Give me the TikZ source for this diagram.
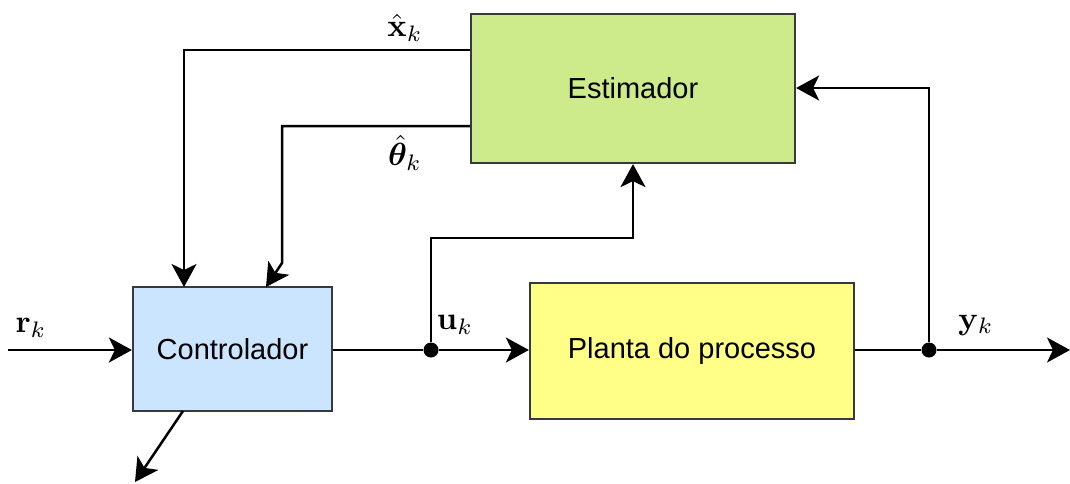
\documentclass[tikz,border=0pt]{standalone}
\usepackage{amsmath,bm}
\usepackage[no-math]{fontspec}
\setmainfont{Liberation Sans}
\usetikzlibrary{arrows.meta}
\definecolor{estfill}{HTML}{CDEB8B}
\definecolor{ctrlfill}{HTML}{CCE5FF}
\definecolor{plantfill}{HTML}{FFFF88}
\definecolor{boxline}{HTML}{36393D}
\tikzset{
  blockbox/.style={draw=boxline, line width=2.2pt, inner sep=0pt, font=\fontsize{29}{32}\selectfont},
  conn/.style={line width=2.5pt, -{Stealth[length=23pt,width=25pt,inset=6pt]}},
  wire/.style={line width=2.5pt},
  junction/.style={circle, fill=black, inner sep=0pt, minimum size=15pt},
  lbl/.style={inner sep=0pt, scale=3.2}
}
\begin{document}
\begin{tikzpicture}[x=1pt,y=-1pt]
\useasboundingbox (0,0) rectangle (1070,483);
\node[blockbox, fill=estfill, minimum width=324pt, minimum height=149pt] (est) at (633,88.5) {Estimador};
\node[blockbox, fill=ctrlfill, minimum width=199pt, minimum height=124pt] (ctrl) at (232.5,349) {Controlador};
\node[blockbox, fill=plantfill, minimum width=324pt, minimum height=136pt] (plant) at (692,351) {Planta do processo};
\node[junction] (ju) at (431,350) {};
\node[junction] (jy) at (929,350) {};
\coordinate (rin) at (8,350);
\coordinate (yout) at (1070,350);
\coordinate (cdown) at (135,482);
\coordinate (thbend) at (282,263);
\node[lbl] (lr) at (31,328) {$\mathbf{r}_k$};
\node[lbl] (lu) at (455,325) {$\mathbf{u}_k$};
\node[lbl] (ly) at (976,325) {$\mathbf{y}_k$};
\node[lbl] (lx) at (405,28) {$\hat{\mathbf{x}}_k$};
\node[lbl] (lt) at (405,153) {$\hat{\bm{\theta}}_k$};
\draw[conn] (rin) -- (ctrl.west |- rin);
\draw[wire] (ctrl.east |- ju) -- (ju);
\draw[conn] (ju) -- (plant.west |- ju);
\draw[conn] (ju) -- (431,238) -- (633,238) -- (est.south);
\draw[wire] (plant.east |- jy) -- (jy);
\draw[conn] (jy) -- (yout);
\draw[conn] (jy) -- (929,88) -- (est.east |- 0,88);
\draw[conn] (est.west |- 0,50) -- (184,50) -- (184,287);
\draw[conn] (est.west |- 0,126) -- (282,126) -- (thbend) -- (266,287);
\draw[conn] (183,411) -- (cdown);
\end{tikzpicture}
\end{document}
